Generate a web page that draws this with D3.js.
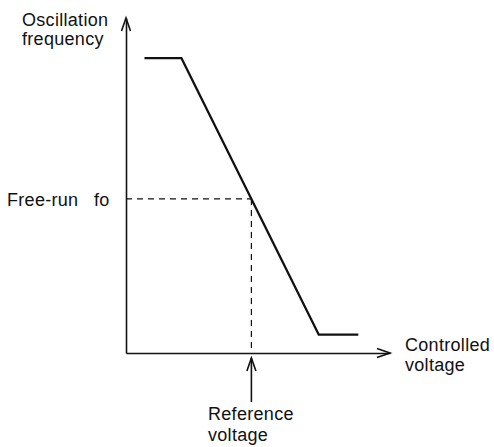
<!DOCTYPE html>
<html>
<head>
<meta charset="utf-8">
<script src="https://cdn.jsdelivr.net/npm/d3@7"></script>
<style>
  body { margin: 0; background: #fff; }
  text { font-family: "Liberation Sans", Arial, sans-serif; font-size: 18px; letter-spacing: 0.3px; fill: #111; }
</style>
</head>
<body>
<div id="chart"></div>
<script>
// characteristic curve (abstract units, 0..100 on both axes)
const voltage = [7, 21, 73, 88];
const frequency = [88, 88, 5.5, 5.5];
const referenceVoltage = 47.5;
const freeRunFrequency = 46;

const yLabel = ['Oscillation', 'frequency'];
const xLabel = ['Controlled', 'voltage'];
const refLabel = ['Reference', 'voltage'];
const foLabel = ['Free-run', 'fo'];

const width = 494, height = 447;

let svg = d3.select('#chart').append('svg')
  .attr('width', width)
  .attr('height', height);

let x = d3.scaleLinear().domain([0, 100]).range([126, 390]);
let y = d3.scaleLinear().domain([0, 100]).range([353, 18]);

// axes, no ticks - just the line
svg.append('g')
  .attr('transform', `translate(0, ${y(0)})`)
  .call(d3.axisBottom(x).tickValues([]).tickSizeOuter(0))
  .select('.domain').attr('stroke', '#111').attr('stroke-width', 1.6);

svg.append('g')
  .attr('transform', `translate(${x(0)}, 0)`)
  .call(d3.axisLeft(y).tickValues([]).tickSizeOuter(0))
  .select('.domain').attr('stroke', '#111').attr('stroke-width', 1.6);

// open arrow heads
let arrow = (tx, ty, dx, dy) => {
  // dx,dy: unit direction of the arrow
  let len = 13, half = 4.5;
  let px = -dy, py = dx;
  let bx = tx - dx * len, by = ty - dy * len;
  return `M${bx + px * half},${by + py * half}L${tx},${ty}L${bx - px * half},${by - py * half}`;
};

svg.append('path')
  .attr('d', arrow(x(100), y(0), 1, 0))
  .attr('fill', 'none').attr('stroke', '#111').attr('stroke-width', 1.6);

svg.append('path')
  .attr('d', arrow(x(0), y(100), 0, -1))
  .attr('fill', 'none').attr('stroke', '#111').attr('stroke-width', 1.6);

// dashed guides
svg.append('line')
  .attr('x1', x(0)).attr('x2', x(referenceVoltage))
  .attr('y1', y(freeRunFrequency)).attr('y2', y(freeRunFrequency))
  .attr('stroke', '#111').attr('stroke-width', 1.2)
  .attr('stroke-dasharray', '6,5');

svg.append('line')
  .attr('x1', x(referenceVoltage)).attr('x2', x(referenceVoltage))
  .attr('y1', y(freeRunFrequency)).attr('y2', y(0))
  .attr('stroke', '#111').attr('stroke-width', 1.2)
  .attr('stroke-dasharray', '6,5');

// curve
let line = d3.line()
  .x(d => x(d[0]))
  .y(d => y(d[1]));

svg.append('path')
  .datum(voltage.map((v, i) => [v, frequency[i]]))
  .attr('d', line)
  .attr('fill', 'none')
  .attr('stroke', '#111')
  .attr('stroke-width', 2.2);

// reference voltage pointer
let refX = x(referenceVoltage);
svg.append('line')
  .attr('x1', refX).attr('x2', refX)
  .attr('y1', 402).attr('y2', 358)
  .attr('stroke', '#111').attr('stroke-width', 1.6);
svg.append('path')
  .attr('d', arrow(refX, 358, 0, -1))
  .attr('fill', 'none').attr('stroke', '#111').attr('stroke-width', 1.6);

// labels
let addLines = (lines, lx, ly, step) => {
  lines.forEach((t, i) => {
    svg.append('text').attr('x', lx).attr('y', ly + i * step).text(t);
  });
};

addLines(yLabel, 22, 26, 19);
addLines(xLabel, 405, 351, 20);
addLines(refLabel, 208, 420, 21);

svg.append('text').attr('x', 7).attr('y', y(freeRunFrequency) + 7).text(foLabel[0]);
svg.append('text').attr('x', 94).attr('y', y(freeRunFrequency) + 7).text(foLabel[1]);
</script>
</body>
</html>
